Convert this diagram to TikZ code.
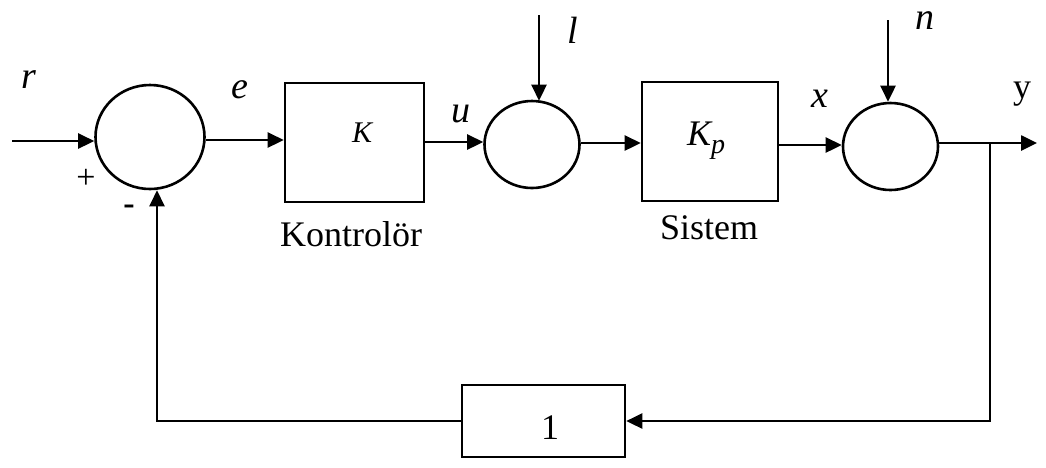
\documentclass[tikz,border=0pt]{standalone}
\usepackage{fontspec}
\setmainfont{Liberation Serif}
\usepackage{tikz}
\usetikzlibrary{positioning,arrows.meta,shapes.geometric,calc}
\definecolor{ink}{gray}{0.0}
\tikzset{
  blok/.style={draw=ink, line width=2.6pt, rectangle, inner sep=0pt},
  toplam/.style={draw=ink, line width=2.6pt, ellipse, inner sep=0pt},
  akis/.style={-{Triangle[length=16pt,width=15pt]}, draw=ink, line width=2.6pt},
  isaret/.style={font=\fontsize{38}{40}\selectfont\itshape, inner sep=0pt},
  yazi/.style={font=\fontsize{36}{40}\selectfont, inner sep=0pt},
}

\begin{document}
\begin{tikzpicture}[x=1pt,y=-1pt]
        \useasboundingbox (0,0) rectangle (1046,467);
        % toplama noktalari ve bloklar
        \node[toplam, minimum width=109pt, minimum height=104pt] (sum1) at (150,137) {};
        \node[blok, minimum width=139pt, minimum height=119pt] (kont) at (354.5,142.5) {};
        \node[toplam, minimum width=95pt, minimum height=87pt] (sum2) at (532,144.5) {};
        \node[blok, minimum width=136pt, minimum height=119pt] (sist) at (710,141.5) {};
        \node[toplam, minimum width=95pt, minimum height=87pt] (sum3) at (890.5,146.5) {};
        \node[blok, minimum width=163pt, minimum height=72pt] (geri) at (543.5,421) {};
        % blok icindeki yazilar
        \node[inner sep=0pt, font=\fontsize{30}{34}\selectfont\itshape] (kK) at (362,133) {K};
        \node[inner sep=0pt, font=\fontsize{36}{38}\selectfont\itshape] (kKp) at (706,141) {K\raisebox{-8pt}{\fontsize{28}{30}\selectfont p}};
        \node[yazi] (bir) at (550,428) {1};
        \node[yazi] (kad) at (351,234) {Kontrolör};
        \node[yazi] (sad) at (709,228) {Sistem};
        % giris / cikis noktalari
        \coordinate (giris) at (12,141);
        \coordinate (lgir) at (539,15);
        \coordinate (ngir) at (888,20);
        \coordinate (cikis) at (1037,143);
        \coordinate (dal) at (990,143);
        % sinyal etiketleri
        \node[isaret] (rlab) at (29,80) {r};
        \node[isaret] (elab) at (240,90) {e};
        \node[isaret] (ulab) at (461,114) {u};
        \node[isaret] (llab) at (573,30) {l};
        \node[isaret] (xlab) at (820,99) {x};
        \node[isaret] (nlab) at (925,21) {n};
        \node[yazi] (ylab) at (1022,94) {y};
        \node[inner sep=0pt, font=\fontsize{34}{36}\selectfont] (arti) at (86,179) {+};
        \node[inner sep=0pt, font=\fontsize{34}{36}\selectfont\bfseries] (eksi) at (129,210) {-};
        % baglantilar
        \draw[akis] (giris) -- (giris -| sum1.west);
        \draw[akis] (sum1.east |- 0,140) -- (kont.west |- 0,140);
        \draw[akis] (kont.east |- 0,142) -- (sum2.west |- 0,142);
        \draw[akis] (sum2.east |- 0,143) -- (sist.west |- 0,143);
        \draw[akis] (sist.east |- 0,145) -- (sum3.west |- 0,145);
        \draw[akis] (lgir) -- ($(lgir |- sum2.north)+(0,1)$);
        \draw[akis] (ngir) -- (ngir |- sum3.north);
        \draw[akis] (sum3.east |- cikis) -- (cikis);
        \draw[akis] (dal) |- (geri.east);
        \draw[akis] (geri.west) -| ($(sum1.south)+(7,0)$);
\end{tikzpicture}
\end{document}
